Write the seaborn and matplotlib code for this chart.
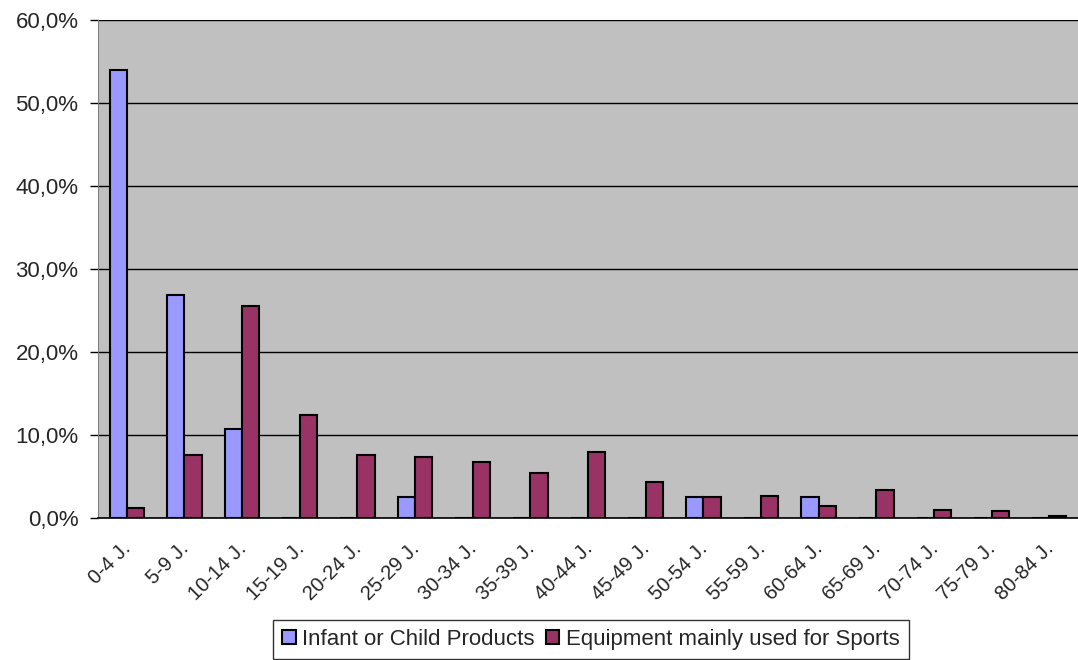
import pandas as pd
import matplotlib.pyplot as plt
import matplotlib.ticker as mticker
import matplotlib.transforms as mtransforms
import seaborn as sns

# Data (percent)
age_groups = ["0-4 J.", "5-9 J.", "10-14 J.", "15-19 J.", "20-24 J.", "25-29 J.",
              "30-34 J.", "35-39 J.", "40-44 J.", "45-49 J.", "50-54 J.", "55-59 J.",
              "60-64 J.", "65-69 J.", "70-74 J.", "75-79 J.", "80-84 J."]
infant = [54.0, 26.9, 10.7, 0.0, 0.0, 2.5, 0.0, 0.0, 0.0, 0.0, 2.5, 0.0,
          2.5, 0.0, 0.0, 0.0, 0.0]
sports = [1.2, 7.6, 25.5, 12.4, 7.6, 7.4, 6.7, 5.4, 8.0, 4.3, 2.5, 2.7,
          1.4, 3.4, 1.0, 0.8, 0.2]
series = ["Infant or Child Products", "Equipment mainly used for Sports"]
colors = ["#9999FF", "#993366"]

df = pd.DataFrame({
    "age": age_groups * 2,
    "value": infant + sports,
    "series": [series[0]] * len(age_groups) + [series[1]] * len(age_groups),
})

sns.set_style("white")
plt.rcParams["font.family"] = ["Liberation Sans", "DejaVu Sans"]

fig = plt.figure(figsize=(10.78, 6.6), dpi=100)
ax = fig.add_axes([0.0909, 0.215, 0.9091, 0.755])
ax.set_facecolor("#C0C0C0")

sns.barplot(data=df, x="age", y="value", hue="series", palette=colors, saturation=1,
            width=0.6, edgecolor="black", linewidth=1.5, ax=ax, legend=True)

ax.set_ylim(0, 60)
ax.set_xlim(-0.5, len(age_groups) - 0.5)
ax.yaxis.set_major_locator(mticker.MultipleLocator(10))
ax.yaxis.set_major_formatter(mticker.FuncFormatter(lambda v, p: f"{v:.1f}%".replace(".", ",")))
ax.grid(axis="y", color="black", linewidth=1)
ax.set_axisbelow(True)

# x ticks sit at category boundaries, labels at centers
ax.set_xticks([i + 0.5 for i in range(len(age_groups) - 1)] + [-0.5], minor=True)
ax.set_xticks(range(len(age_groups)))
ax.set_xticklabels(age_groups, rotation=45, ha="right", va="center_baseline",
                   rotation_mode="anchor", fontsize=14.5)
shift = mtransforms.ScaledTranslation(-6 / 100, 0, fig.dpi_scale_trans)
for lbl in ax.get_xticklabels():
    lbl.set_transform(lbl.get_transform() + shift)
ax.tick_params(axis="x", which="major", length=0, pad=19)
ax.tick_params(axis="x", which="minor", length=6, width=1, color="black", direction="out")
ax.tick_params(axis="y", length=6, width=1, color="black", direction="out",
               labelsize=16, left=True, pad=8)

ax.set_xlabel("")
ax.set_ylabel("")
for side in ["top", "right"]:
    ax.spines[side].set_visible(False)
ax.spines["left"].set_color("#808080")
ax.spines["bottom"].set_color("black")
ax.spines["bottom"].set_linewidth(1.2)

leg = ax.legend(loc="center", bbox_to_anchor=(0.503, -0.243), ncol=2,
                prop={"size": 16},
                frameon=True, fancybox=False, edgecolor="black",
                handlelength=0.6, handleheight=0.6, handletextpad=0.3, columnspacing=0.5,
                borderpad=0.4)
leg.get_frame().set_linewidth(1)

fig.savefig("out.png", dpi=100)
